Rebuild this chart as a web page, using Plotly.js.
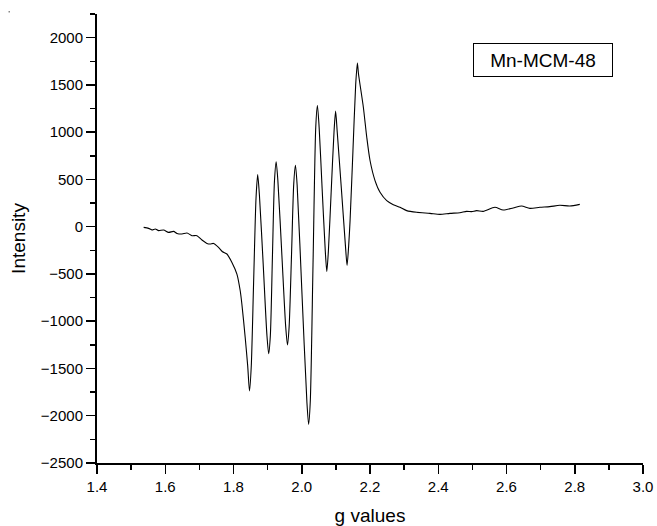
<!DOCTYPE html>
<html>
<head>
<meta charset="utf-8">
<script src="https://cdn.plot.ly/plotly-3.0.1.min.js"></script>
<style>html,body{margin:0;padding:0;background:#fff;}#chart{width:657px;height:526px;}</style>
</head>
<body>
<div id="chart"></div>
<script>
// g values (x)
const gValues = [
  1.5367, 1.5513, 1.5613, 1.5709, 1.5806, 1.5952, 1.6098, 1.6245, 1.6344, 1.6491,
  1.6637, 1.6783, 1.6929, 1.7076, 1.7222, 1.7319, 1.7415, 1.7562, 1.7679, 1.7807,
  1.7954, 1.8100, 1.8197, 1.8246, 1.8343, 1.8416, 1.8469, 1.8520, 1.8589, 1.8660,
  1.8709, 1.8760, 1.8870, 1.8980, 1.9031, 1.9080, 1.9140, 1.9200, 1.9250, 1.9300,
  1.9415, 1.9530, 1.9581, 1.9630, 1.9700, 1.9765, 1.9815, 1.9865, 2.0008, 2.0150,
  2.0201, 2.0250, 2.0330, 2.0410, 2.0459, 2.0510, 2.0597, 2.0690, 2.0734, 2.0780,
  2.0863, 2.0945, 2.0992, 2.1040, 2.1160, 2.1280, 2.1328, 2.1375, 2.1416, 2.1500,
  2.1580, 2.1630, 2.1662, 2.1805, 2.1905, 2.2001, 2.2147, 2.2294, 2.2490, 2.2683,
  2.2879, 2.3075, 2.3368, 2.3757, 2.4050, 2.4342, 2.4635, 2.4831, 2.4977, 2.5124,
  2.5317, 2.5659, 2.5902, 2.6195, 2.6441, 2.6684, 2.6977, 2.7269, 2.7562, 2.7855,
  2.8148
];
// Intensity (y)
const intensity = [
  -7, -18, -35, -24, -42, -35, -60, -50, -71, -77,
  -67, -95, -95, -141, -177, -183, -177, -219, -265, -289,
  -378, -501, -678, -820, -1173, -1473, -1738, -1480, -594, 300,
  551, 330, -396, -1150, -1343, -1150, -329, 480, 686, 490,
  -283, -1060, -1251, -1060, -301, 450, 650, 440, -721, -1850,
  -2091, -1850, -405, 1050, 1282, 1050, 404, -260, -474, -260,
  374, 1000, 1222, 1000, 406, -200, -410, -200, 64, 800,
  1500, 1731, 1618, 1264, 946, 700, 488, 364, 276, 233,
  205, 170, 152, 141, 130, 141, 148, 162, 159, 170,
  162, 205, 177, 198, 219, 194, 205, 212, 226, 219,
  236
];
const xTickVals = [1.4, 1.6, 1.8, 2.0, 2.2, 2.4, 2.6, 2.8, 3.0];
const yTickVals = [-2500, -2000, -1500, -1000, -500, 0, 500, 1000, 1500, 2000];
const sampleLabel = "Mn-MCM-48";

const trace = {
  x: gValues, y: intensity, type: 'scatter', mode: 'lines',
  line: {color: '#000', width: 1.1, shape: 'spline', smoothing: 0.7}, hoverinfo: 'skip'
};
const font = {family: 'Liberation Sans, Arial, sans-serif', color: '#000'};
const layout = {
  width: 657, height: 526,
  margin: {l: 97, r: 14, t: 14, b: 63, pad: 0},
  paper_bgcolor: '#fff', plot_bgcolor: '#fff',
  showlegend: false,
  font: Object.assign({size: 15}, font),
  xaxis: {
    range: [1.4, 3.0], tickvals: xTickVals, ticktext: xTickVals.map(v => v.toFixed(1)),
    showline: true, linecolor: '#000', linewidth: 2, mirror: false,
    ticks: 'outside', ticklen: 9, tickwidth: 1.5, tickcolor: '#000',
    minor: {dtick: 0.1, tick0: 1.4, ticks: 'outside', ticklen: 5, tickwidth: 1.5, tickcolor: '#000', showgrid: false},
    showgrid: false, zeroline: false,
    tickfont: Object.assign({size: 15}, font),
    title: {text: 'g values', font: Object.assign({size: 19}, font), standoff: 18}
  },
  yaxis: {
    range: [-2500, 2250], tickvals: yTickVals,
    showline: true, linecolor: '#000', linewidth: 2, mirror: false,
    ticks: 'outside', ticklen: 9, tickwidth: 1.5, tickcolor: '#000',
    minor: {dtick: 250, tick0: 0, ticks: 'outside', ticklen: 5, tickwidth: 1.5, tickcolor: '#000', showgrid: false},
    showgrid: false, zeroline: false,
    tickfont: Object.assign({size: 15}, font),
    title: {text: 'Intensity', font: Object.assign({size: 19}, font), standoff: 10}
  },
  annotations: [{
    xref: 'paper', yref: 'paper', x: 0.8166, y: 0.8975,
    xanchor: 'center', yanchor: 'middle', showarrow: false,
    text: sampleLabel, font: Object.assign({size: 19}, font),
    bordercolor: '#000', borderwidth: 1, width: 136, height: 30, bgcolor: '#fff'
  }],
  shapes: [{
    type: 'rect', xref: 'paper', yref: 'paper',
    x0: (8.5 - 97) / 546, x1: (10 - 97) / 546, y0: (463 - 11) / 449, y1: (463 - 12.5) / 449,
    fillcolor: '#888', line: {width: 0}
  }]
};
Plotly.newPlot('chart', [trace], layout, {staticPlot: true, displayModeBar: false});
</script>
</body>
</html>
